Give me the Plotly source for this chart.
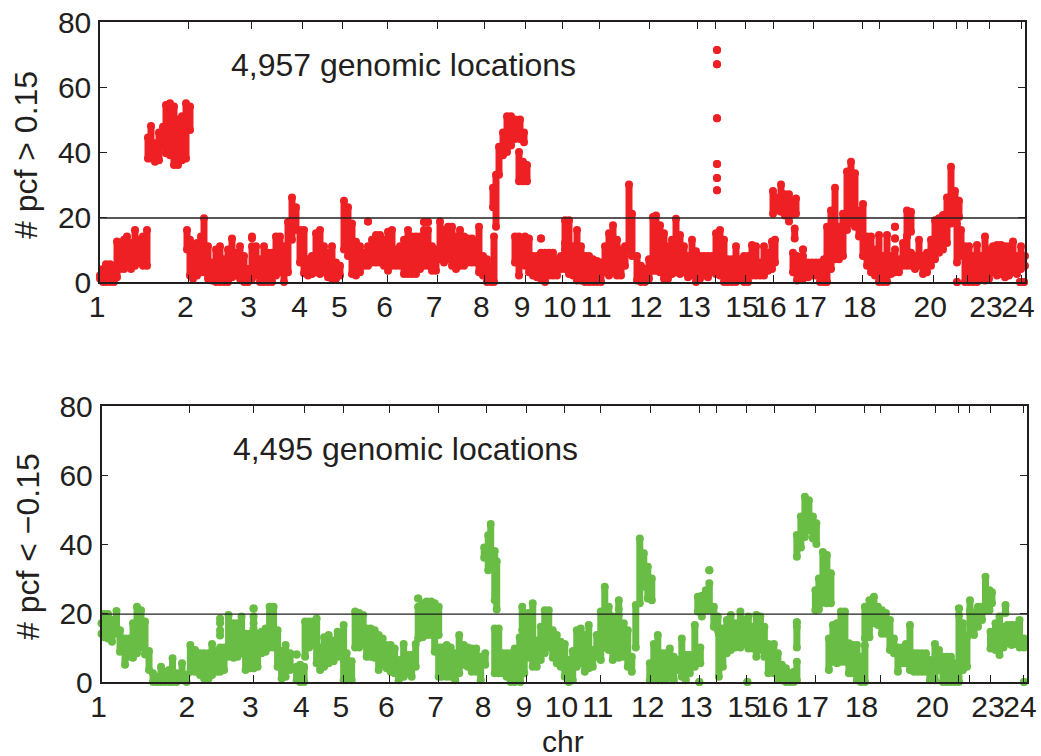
import plotly.graph_objects as go

# x is the position along the genome axis (arbitrary units, 0 to 925); y is the count.
chr_ticks = [0, 88.3, 151.7, 202.7, 242.3, 287.7, 337, 384.3, 425, 462.7, 499, 549, 597.3, 615, 645, 673,
             713.3, 762.7, 779, 833.3, 856.3, 867.3, 889, 921]
chr_labels = ["1", "2", "3", "4", "5", "6", "7", "8", "9", "10", "11", "12", "13", "", "15", "16",
              "17", "18", "", "20", "", "", "23", "24"]
y_ticks = [0, 20, 40, 60, 80]
threshold = 19.7

# (position, lowest count, highest count)
red_stacks = [
 (0,1,2),(3,0,4),(6,0,5.5),(10,0,5.5),(14,0,5),(17,1.5,12.5),(20,4,11),(24,4,13),(27,5,14),(31,4,12),(35,5,16),
 (39,6,13),(43,5,14),(47,5,16),
 (48,38,44.5),(51,38,48),(55,37,42.7),(59,37.5,46),(63,41.6,47.8),(66,39.6,54.5),(70,39,55),(74,36,54),(78,36,50),
 (82,37.5,51),(86,38,55),(90,46.8,54),
 (87,10,16),(90,2,13),(93,1,11),(97,2,12),(101,3,14),(104,3,19.6),(108,1,11),(112,0.5,6),(116,0,10),(120,0,11),
 (124,0,7),(128,0,10),(132,1.5,13.4),(136,2,9),(140,1,11),(144,0,8),(148,0,4),(152,13.5,14),(152,1,11),(156,2,11),
 (160,0,7),(164,0,11),(168,0,9),(172,0,9),(176,2,14),(180,3,14),(184,0,11),(188,3,18.5),(192,13,26),(196,16,23),
 (200,6,16),(204,2.7,16),(208,2,7),(212,2.5,8),(216,3,15),(220,2.5,16),(224,3,11),(228,1.5,9),(232,1,11),(236,1,6),
 (240,2,5),(244,10,25),(248,8,23),(252,2.5,18),(256,2,12.4),(260,3,11),(264,5,9),(268,18.6,18.6),(268,5,11),
 (272,6,13),(276,6,14.5),(280,6,14.5),(284,5,13),(288,3.5,15.5),(292,5,16),(296,5,10),(300,5,11),(304,2.5,13),
 (308,2.5,16),(312,2.5,14),(316,2.5,14),(320,4,14),(324,5,16),(324,18.5,18.5),(328,5,16),(328,18.5,18.5),
 (332,3.5,11),(336,3.5,10),(340,7,18.6),(344,6,16),(348,7,17),(352,5,17),(356,4,14),(360,5,16),(364,5,14),
 (368,6,13.4),(372,6,13.4),(376,6,12),(379,3,17),(383,2,8),(387,0,7),(391,0,5),(394,0,14),(393,23,29),(396,17,33),
 (399,33,41.6),(403,39,46),(407,40,51),(411,42,51),(415,44,50),(420,44,50),(424,43,46),(419,31,40),(423,31,37),
 (427,31,36),(415,6,14),(419,2,14),(425,5,14),(429,3,13.4),(433,2,8),(437,1.5,8),(441,1,9),(441,13.4,13.4),
 (445,0,9),(449,2,9),(453,2,9),(457,2,7),(461,4,8),(465,10,19),(465,4,12),(469,2.5,19),(473,2,11),(477,0.5,16),
 (481,0.5,11),(485,0,8),(489,0,8),(493,0,7),(497,0,6.5),(501,0,6),(505,3,11),(509,2,15),(513,3,17.5),(517,2,13),
 (521,2,10),(525,5,11),(529,10,30),(532,8,21),(537,0.5,8),(541,0,5),(545,0,4),(549,1,7),(553,3.5,20),(556,3.5,20.5),
 (560,3,17.5),(564,1,15),(568,1,11),(572,2.5,13),(576,3,19.5),(580,2.5,14.5),(584,3,11),(588,1.5,8),(592,2,13),
 (596,0,9.5),(600,1,8),(604,2,8),(608,1.5,8),(612,3,8),(616,2.5,15),(620,2,16),(624,0,13),(628,0,7),(632,0,7),
 (636,0,11),(640,1,7),(644,0,8),(648,0,8),(652,2,11.4),(656,2,11),(660,2,6),(664,2,11),(668,3.5,9),(672,4,12.5),
 (675,6,13),(673,21,28),(677,22,26),(681,21.6,30),(685,20.5,27),(689,18.6,27),(693,21,25),(696,21,25.7),
 (694.7,13.4,16.5),(693,3,9),(697,0.5,8),(703,10,10),(703,1,8),(708,1.5,6),(712,2,6),(716,2,6),(720,0,6),(724,0,7),
 (727,0,17),(731,4,22),(735,7,29),(739,7,17),(743,8,21),(747,16,34),(751,18,37),(755,17,33.5),(759,14,22),(763,8,24),
 (767,5,14),(771,3,14),(775,2,10),(779,0,14.5),(783,0,8),(787,0,14.5),(791,2.5,8),(795,3,10),(795,13.4,13.4),
 (795,17,17),(799,3,7),(803,5,12),(807,14,22),(807,5,14),(811,15.5,21.6),(811,5,9),(815,4,8),(819,5,13),(823,2.5,8),
 (827,3,9),(831,5,13),(835,7,19),(839,9,19.6),(843,10,20.6),(847,12,26),(851,18,35.5),(855,19,28),(859,20,25),
 (857,6,18),(857,0,0),(861,8,16),(865,0,11),(869,0,11),(873,0,8),(877,0,11.4),(881,1,8),(885,0.5,14),(889,1,10),
 (893,3,11),(897,2,11.4),(901,2.5,11.4),(905,1.5,11),(909,2,11),(913,3,12.5),(917,2.5,8),(921,4,11),(925,5,8),
 (617,28.2,28.2),(617,32,32),(617,36.3,36.3),(617,50.4,50.4),(617,67,67),(617,71.4,71.4),(920,0,0),(924,0,0),(927,0,0),
]

green_stacks = [
 (0,14,17),(2.5,13,19.7),(6.5,12.6,19.7),(10.5,11.7,18),(15,14,20.6),(18.5,8.8,15),(23.5,5,12.6),(27.5,7.3,12.6),
 (31.5,7,17),(35.5,8.3,21.8),(39.5,10,20.8),(43.5,8,17.5),(47.5,3.5,9),(51.5,0,2.5),(55.5,0,1.5),(59.5,0,4.4),
 (63.5,0,3),(67.5,0,3.5),(71,0,6.9),(75,0,2.5),(80.5,0.5,5.4),(85,0,2),(88.8,3,10.7),(93.5,3,9.3),(98.5,2,8.3),
 (102.5,1,8.3),(107,1,8.3),(110.5,2,11),(115,3,9),(118.5,3,10),(118.5,13.5,15),(118.5,17,18.4),(122.5,3.5,10),
 (127,7.3,19.4),(132,7,17),(136,7.3,17),(140,8.3,19),(144,3.5,14),(148,4,14),(152,4,15.5),(152,17,19),(152,21.3,21.3),
 (156,4.4,14),(160,8.3,14.6),(164,8.8,15.5),(168,10,21.8),(172,10,21.8),(176,4.4,15),(180,1,9),(184,1.5,10.7),
 (188.5,3.5,8.3),(195,0.5,4.4),(195,8,8),(198.5,0,5),(202.5,0,4.4),(203.5,7.3,17.5),(207.5,10,17.5),(211.5,11,17.5),
 (215,5.4,18.4),(218.5,3.5,10),(222.5,4.4,13),(227,5.4,13.6),(232,6,12),(236,7.3,14.6),(242,8.3,16.5),(242,0.5,6.4),
 (245,0.5,8.3),(250,0.5,6),(253.5,10,20.4),(257.5,10,20),(261.5,11,19.4),(265,7.3,15.5),(269,7.3,15.5),(273,7,15),
 (277,3.5,13.6),(281,5,12.6),(285,4,10.7),(289,3,10.7),(293,2.5,9.7),(297,0.5,6.4),(302,1.5,11),(306,2.5,7.8),
 (310,1.5,7.8),(314,4.4,11),(316.5,12.6,21.8),(316.5,24.2,24.2),(321,13,22.8),(325,13.6,23.3),(329.5,13.6,23.3),
 (333,8.8,22.8),(337,13.6,21.8),(337,1.5,10),(340,1.5,10),(345,1.5,10.7),(349,1.5,10),(353.5,0.5,8.3),(357.5,2.5,13.6),
 (362,5,10.7),(366,4.4,10),(370,3,9.7),(374.5,3,9.7),(379,0.5,7.3),(383.5,5,8.3),(382.5,36,39),(386.5,32.4,42.5),
 (389,34.4,45.8),(393,23.7,38),(395,21,35),(393,2.5,15.5),(397,2.5,15.5),(401,2.5,8.3),(405,1.5,8.3),(409,0,8.3),
 (413,0,9.7),(418,1.5,13),(420.5,15,21.8),(418.5,0,9),(422.5,2.5,15),(426.5,17,20),(426.5,7,16),(431,4.4,22.8),
 (435,4.4,12),(439,6.4,16),(443,8.3,20.8),(447,10,20.8),(451,7,15),(455,5.4,13.6),(459,4.4,11.7),(463,1.5,11),
 (467,0,6.4),(471,0.5,9),(475,4.4,15),(479,5.4,15.5),(483,3,13.6),(487,4,16.5),(491,4.4,9.3),(495,7.3,13.6),
 (499,6.4,20.4),(503,10,27.6),(507,9.3,21.8),(511,6.4,19),(517,7,19.4),(517,21,23.7),(522,7.3,17),(526,4.4,15),
 (530,3,7.3),(534,10,22.3),(538,22.8,41.6),(542,27.6,37.3),(546,24.2,33.4),(550,23.7,30),(548,0.5,5.4),(552,0.5,11),
 (556,0.5,13.6),(560,0.5,8.3),(564,0.5,8.3),(568,1.5,9.7),(572,0.5,7.3),(576,3.5,6.4),(580,1.5,12.6),(584,0.5,7.8),
 (588,2.5,7.8),(593,4.4,16.5),(598.5,5.4,10),(597.5,0,0),(596,20.4,24.7),(600,19,25),(604,20.8,26.6),(607.5,20.8,28.6),
 (607.5,32.4,32.4),(612,16,21.8),(616,15,19),(617,1.5,14),(621,4.4,15.5),(625,8.3,18),(629,9.3,19.4),(633.5,10,17),
 (638.5,10,20.4),(642.5,11,18),(646.5,9.7,19),(645.5,0,0),(650.5,9.7,16),(654.5,7.3,19.4),(658.5,9.3,19),(662.5,7.3,16),
 (666.5,2.5,11),(672,2.5,11),(676,1,8.3),(680,0.5,5),(684,0,4),(688,0,2.5),(692,0,3),(695,0.5,5.9),(695,10,16),
 (695,17.3,17.3),(695,36.3,42.6),(699,39,48),(703,42,53.7),(707,44,52.7),(711,41.6,48),(714.5,40,46),(713.5,20.8,26.6),
 (717,21,30),(721,23,37.7),(725,22.8,36.8),(729,22.8,31.5),(727,3.5,12.6),(731,5.9,16.5),(735,5.4,17),(739,5.9,20.4),
 (743,5.9,20.4),(747,2.5,11.2),(751,2.5,10.7),(755,0.5,10.7),(759,0,7.3),(763,0,10.7),(763,12.6,21.8),(767.5,13,23.7),
 (772,17,24.7),(776,16.5,21.8),(780,14,20.8),(784,14,20),(788,9.3,18),(792,8.3,12.6),(796,3,10),(800,5.4,10),(804,5.4,11),
 (808,3.5,16.5),(812,3,8.3),(816,3,8.3),(820,3,8.3),(824,3,8.3),(828,0.5,6.4),(833,0.5,11),(837,3.5,9.3),(841,0,7.3),
 (845,0,7.3),(849,0,7.3),(853,0,5.4),(857,0,19.4),(857,21.3,21.3),(861,3.5,17),(865,4.4,13),(868,20.8,23.7),(868,14,20),
 (872,13.6,20),(876,16,21.8),(880,18,21.8),(883.5,20.8,30.5),(887.5,20.8,26.6),(890,22.8,26),(888.5,9.7,14.6),(893.5,9.3,17),
 (897.5,7.8,19),(901.5,10,16),(903.5,20,22.3),(905.5,11.2,16.5),(909.5,10.7,16.5),(913.5,11,16.5),(917.5,10,18),(922,10,12.6),
 (922,0,0),(926,0,0),
]

RED = "#ee2024"
GREEN = "#69bd45"
INK = "#231f20"
W, H = 1041, 756


def segments(stacks):
    xs, ys = [], []
    for pos, low, high in stacks:
        xs += [pos, pos, None]
        ys += [low, high, None]
    return xs, ys


def dom_x(a, b):
    return [a / W, b / W]


def dom_y(top, bottom):
    return [1 - bottom / H, 1 - top / H]


fig = go.Figure()
for stacks, color, xa, ya in [(red_stacks, RED, "x", "y"), (green_stacks, GREEN, "x2", "y2")]:
    xs, ys = segments(stacks)
    fig.add_trace(go.Scatter(x=xs, y=ys, xaxis=xa, yaxis=ya, mode="lines+markers", cliponaxis=False,
                             connectgaps=False, line=dict(color=color, width=7),
                             marker=dict(color=color, size=8), showlegend=False, hoverinfo="skip"))
    fig.add_trace(go.Scatter(x=[0, 925], y=[threshold, threshold], xaxis=xa, yaxis=ya, mode="lines",
                             line=dict(color=INK, width=1.3), showlegend=False, hoverinfo="skip"))

x_common = dict(range=[0, 925], tickmode="array", tickvals=chr_ticks, ticktext=chr_labels, ticks="inside",
                ticklen=7, tickwidth=1.2, tickcolor=INK, showline=True, linecolor=INK, linewidth=1.5,
                mirror="ticks", showgrid=False, zeroline=False, ticklabelstandoff=-3, ticklabelshift=-3,
                tickangle=0, automargin=False,
                tickfont=dict(family="Liberation Sans", size=30, color=INK))
y_common = dict(range=[0, 80], tickmode="array", tickvals=y_ticks, ticks="inside", ticklen=7, tickwidth=1.2,
                tickcolor=INK, showline=True, linecolor=INK, linewidth=1.5, mirror="ticks", showgrid=False,
                zeroline=False, ticklabelstandoff=1, automargin=False,
                tickfont=dict(family="Liberation Sans", size=30, color=INK))
title_font = dict(family="Liberation Sans", size=32, color=INK)


def note(text, x, y, font, **extra):
    return dict(text=text, x=x / W, y=1 - y / H, xref="paper", yref="paper", yanchor="middle",
                showarrow=False, font=font, **extra)


body_font = dict(family="Liberation Sans", size=32, color=INK)
fig.update_layout(
    width=W, height=H, paper_bgcolor="white", plot_bgcolor="white",
    margin=dict(l=0, r=0, t=0, b=0), showlegend=False,
    xaxis=dict(domain=dom_x(100, 1025), anchor="y", **x_common),
    yaxis=dict(domain=dom_y(22, 282), anchor="x", **y_common),
    xaxis2=dict(domain=dom_x(101.5, 1027), anchor="y2", **x_common),
    yaxis2=dict(domain=dom_y(406, 682), anchor="x2", **y_common),
    annotations=[
        note("4,957 genomic locations", 229, 65, body_font, xanchor="left"),
        note("4,495 genomic locations", 231, 449, body_font, xanchor="left"),
        note("# pcf > 0.15", 26, 155, title_font, xanchor="center", textangle=-90),
        note("# pcf < \u22120.15", 28, 547, title_font, xanchor="center", textangle=-90),
        note("chr", 563, 741, dict(family="Liberation Sans", size=30, color=INK), xanchor="center"),
    ],
)

fig.write_html("out.html", config={"displayModeBar": False}, post_script="document.body.style.margin='0';")
